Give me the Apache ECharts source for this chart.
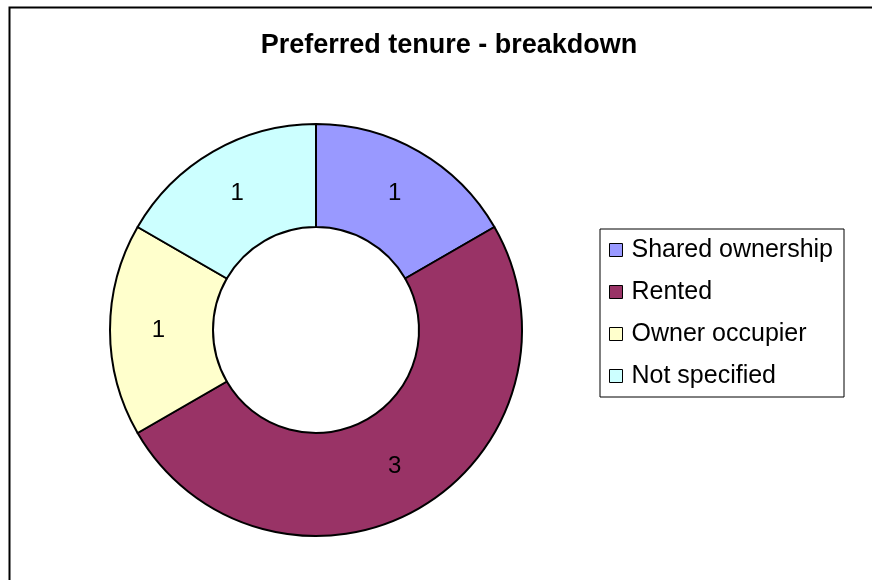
<!DOCTYPE html>
<html>
<head>
<meta charset="utf-8">
<script src="https://cdn.jsdelivr.net/npm/echarts@6/dist/echarts.min.js"></script>
<style>
  html, body { margin: 0; padding: 0; background: #fff; }
  #chart { width: 872px; height: 580px; }
</style>
</head>
<body>
<div id="chart"></div>
<script>
  // 数据
  var categories = ['Shared ownership', 'Rented', 'Owner occupier', 'Not specified'];
  var values = [1, 3, 1, 1];
  var colors = ['#9999FF', '#993366', '#FFFFCC', '#CCFFFF'];

  var pieData = [];
  categories.forEach(function (name, i) {
    pieData.push({ name: name, value: values[i], itemStyle: { color: colors[i] } });
  });

  var chart = echarts.init(document.getElementById('chart'));
  var option = {
    animation: false,
    backgroundColor: '#fff',
    title: {
      text: 'Preferred tenure - breakdown',
      left: 444,
      top: 27,
      textAlign: 'center',
      textStyle: {
        fontFamily: 'Liberation Sans, Arial, sans-serif',
        fontSize: 27,
        fontWeight: 'bold',
        color: '#000'
      }
    },
    legend: {
      orient: 'vertical',
      left: 600,
      top: 229,
      padding: [7, 11, 7, 9],
      borderColor: '#000',
      borderWidth: 1,
      itemWidth: 13,
      itemHeight: 13,
      itemGap: 14,
      icon: 'rect',
      itemStyle: { borderColor: '#000', borderWidth: 1 },
      textStyle: {
        fontFamily: 'Liberation Sans, Arial, sans-serif',
        fontSize: 25,
        lineHeight: 28,
        padding: [0, 0, 0, 4],
        color: '#000'
      },
      data: categories
    },
    graphic: [
      {
        type: 'rect',
        left: 7,
        top: 5,
        shape: { width: 900, height: 620 },
        style: { fill: 'none', stroke: '#000', lineWidth: 2 },
        silent: true,
        z: -1
      }
    ],
    series: [
      {
        type: 'pie',
        center: [316, 330],
        radius: [103, 206],
        startAngle: 90,
        clockwise: true,
        avoidLabelOverlap: false,
        itemStyle: { borderColor: '#000', borderWidth: 2 },
        label: {
          show: true,
          position: 'inside',
          formatter: '{c}',
          fontFamily: 'Liberation Sans, Arial, sans-serif',
          fontSize: 24,
          color: '#000'
        },
        labelLine: { show: false },
        emphasis: { disabled: true },
        data: pieData
      }
    ]
  };
  chart.setOption(option);
</script>
</body>
</html>
